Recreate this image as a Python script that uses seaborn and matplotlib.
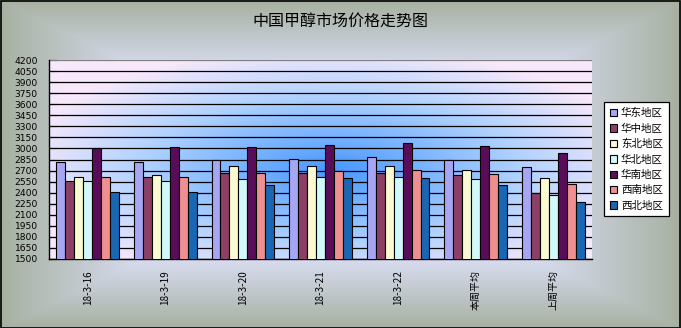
import numpy as np
import pandas as pd
import matplotlib
matplotlib.use("Agg")
import matplotlib.pyplot as plt
import seaborn as sns
from matplotlib.colors import to_rgb
from matplotlib.patches import Rectangle

categories = ["18-3-16", "18-3-19", "18-3-20", "18-3-21", "18-3-22", "本周平均", "上周平均"]
regions = ["华东地区", "华中地区", "东北地区", "华北地区", "华南地区", "西南地区", "西北地区"]
huadong = [2820, 2820, 2846, 2860, 2887, 2846, 2751]
huazhong = [2560, 2614, 2669, 2669, 2669, 2642, 2396]
dongbei = [2614, 2642, 2764, 2764, 2764, 2705, 2601]
huabei = [2560, 2560, 2587, 2614, 2614, 2587, 2369]
huanan = [3005, 3023, 3023, 3051, 3078, 3037, 2942]
xinan = [2614, 2614, 2669, 2696, 2705, 2655, 2519]
xibei = [2410, 2410, 2505, 2601, 2601, 2505, 2273]
yticks = list(range(1500, 4201, 150))
colors = ["#9999FF", "#993366", "#FFFFCC", "#CCFFFF", "#660066", "#FF8080", "#0066CC"]
title = "中国甲醇市场价格走势图"

series = [huadong, huazhong, dongbei, huabei, huanan, xinan, xibei]
rows = []
for reg, vals in zip(regions, series):
    for c, v in zip(categories, vals):
        rows.append({"date": c, "region": reg, "price": v})
df = pd.DataFrame(rows)

sns.set_theme(style="white")
plt.rcParams["font.family"] = ["Noto Sans CJK SC", "DejaVu Sans"]
plt.rcParams["text.color"] = "black"
plt.rcParams["xtick.color"] = "black"
plt.rcParams["ytick.color"] = "black"

W, H = 681, 328
fig = plt.figure(figsize=(W / 100, H / 100), dpi=100)

# figure background gradient
bg_ax = fig.add_axes([0, 0, 1, 1], zorder=-10)
yy, xx = np.mgrid[0:H, 0:W]
tx = np.abs(xx - W / 2) / (W / 2)
ty = np.abs(yy - H / 2) / (H / 2)
t = np.maximum(tx, ty)
t = np.clip((t - 0.5) / 0.5, 0, 1) ** 1.1
inner = np.array(to_rgb("#dfe2fb"))
outer = np.array(to_rgb("#a6b0a0"))
img = inner[None, None, :] * (1 - t[..., None]) + outer[None, None, :] * t[..., None]
bg_ax.imshow(img, aspect="auto", extent=[0, 1, 0, 1], origin="upper")
bg_ax.set_axis_off()

pos = [49 / W, 1 - 259 / H, (592 - 49) / W, (259 - 60) / H]
# plot area gradient
pa = fig.add_axes(pos, zorder=-5)
ph, pw = 200, 543
py, px = np.mgrid[0:ph, 0:pw]
ux = px / pw
uy = 1 - py / ph
d = np.sqrt(((ux - 0.52) / 0.58) ** 2 + ((uy - 0.45) / 0.62) ** 2)
d = np.clip(d, 0, 1)
c0 = np.array(to_rgb("#4797ff"))
c1 = np.array(to_rgb("#b0d2ff"))
c2 = np.array(to_rgb("#f8e8fb"))
a = np.clip(d / 0.6, 0, 1)[..., None]
b = np.clip((d - 0.6) / 0.4, 0, 1)[..., None]
pimg = np.where(d[..., None] < 0.6, c0 * (1 - a) + c1 * a, c1 * (1 - b) + c2 * b)
pa.imshow(pimg, aspect="auto", extent=[0, 1, 0, 1], origin="upper")
pa.set_axis_off()

ax = fig.add_axes(pos)
ax.set_facecolor("none")
sns.barplot(data=df, x="date", y="price", hue="region", palette=colors,
            edgecolor="black", linewidth=0.8, width=0.81, ax=ax, zorder=3,
            legend=True)
ax.set_ylim(1500, 4200)
ax.set_xlim(-0.5, len(categories) - 0.5)
ax.set_yticks(yticks)
ax.set_yticklabels([str(v) for v in yticks], fontsize=6.6, family="DejaVu Sans", color="black")
for v in yticks[:-1]:
    ax.axhline(v, color="black", lw=0.9, zorder=1)
ax.axhline(yticks[-1], color="#808080", lw=0.9, zorder=1)
ax.set_xticks(range(len(categories)))
ax.set_xticklabels(categories, rotation=90, fontsize=7.2, va="top", color="black")
ax.set_xticks(np.arange(-0.5, len(categories), 1), minor=True)
ax.tick_params(axis="x", which="major", length=0, pad=8)
ax.tick_params(axis="x", which="minor", direction="in", length=4, width=0.8, color="black")
ax.tick_params(axis="y", which="major", direction="in", length=6, width=0.8, color="black", pad=8, left=True)
ax.set_xlabel("")
ax.set_ylabel("")
for s in ["top", "right"]:
    ax.spines[s].set_visible(False)
for s in ["left", "bottom"]:
    ax.spines[s].set_color("black")
    ax.spines[s].set_linewidth(1.0)

handles, labels = ax.get_legend_handles_labels()
ax.legend_.remove()
leg = fig.legend(handles, labels, loc="upper left",
                 bbox_to_anchor=(604 / W, 1 - 102 / H), bbox_transform=fig.transFigure,
                 frameon=True, fancybox=False, edgecolor="black", facecolor="white",
                 framealpha=1, fontsize=7.6, handlelength=0.7, handleheight=0.7,
                 handletextpad=0.35, labelspacing=0.5, borderpad=0.55, borderaxespad=0,
                 labelcolor="black")
leg.get_frame().set_linewidth(0.9)

fig.text(0.5, 1 - 22 / H, title, ha="center", va="center", fontsize=11.5, color="black")

fig.patches.append(Rectangle((0.5 / W, 0.5 / H), 1 - 1.5 / W, 1 - 1.5 / H,
                             transform=fig.transFigure, fill=False,
                             edgecolor="black", lw=1.2, zorder=20))

fig.savefig("out.png", dpi=100)
